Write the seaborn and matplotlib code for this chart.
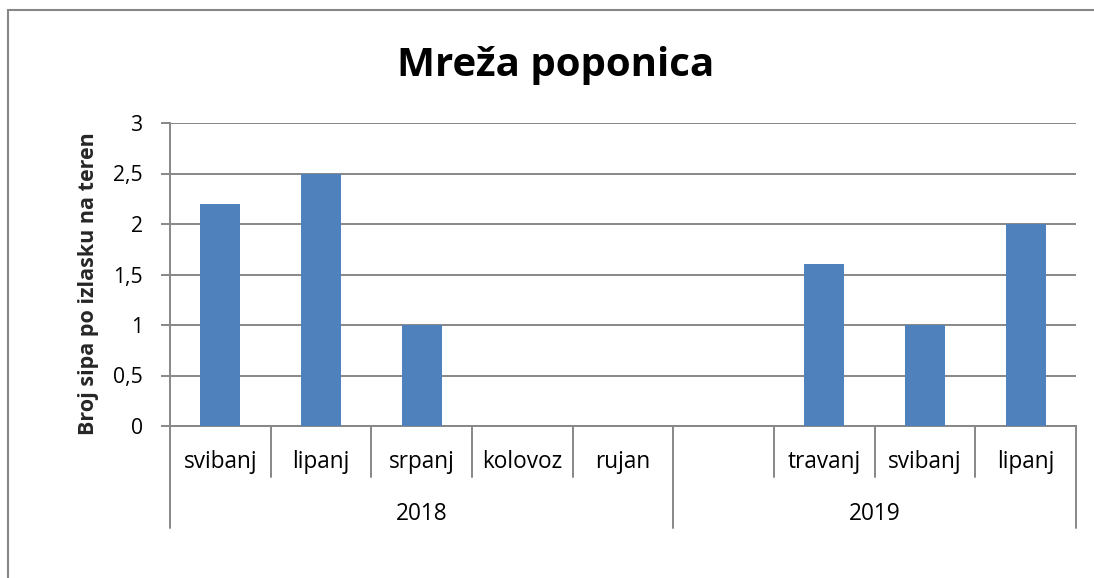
import matplotlib
matplotlib.use("Agg")
import matplotlib.pyplot as plt
import matplotlib.transforms as mtransforms
from matplotlib.patches import Rectangle
import seaborn as sns
import pandas as pd

# ---- data ----
years = ["2018", "2018", "2018", "2018", "2018", "2019", "2019", "2019", "2019"]
months = ["svibanj", "lipanj", "srpanj", "kolovoz", "rujan", "", "travanj", "svibanj", "lipanj"]
values = [2.2, 2.5, 1.0, 0.0, 0.0, 0.0, 1.6, 1.0, 2.0]
year_groups = ["2018", "2019"]
title = "Mreža poponica"
ylabel = "Broj sipa po izlasku na teren"
yticks = [0, 0.5, 1, 1.5, 2, 2.5, 3]

sns.set_theme(style="white")
FONT = ["Open Sans", "DejaVu Sans"]
plt.rcParams["font.family"] = FONT

W, H = 1094, 578
fig = plt.figure(figsize=(W / 100, H / 100), dpi=100)
L, R, T, B = 170, 1076, 123, 426
ax = fig.add_axes([L / W, 1 - B / H, (R - L) / W, (B - T) / H])

df = pd.DataFrame({"key": [f"{y}-{m}-{i}" for i, (y, m) in enumerate(zip(years, months))],
                   "val": values})
GRAY = "#878787"
sns.barplot(data=df, x="key", y="val", color="#4F81BD", saturation=1, width=0.4,
            ax=ax, zorder=3, linewidth=0)
n = len(values)
ax.set_xlim(-0.5, n - 0.5)
ax.set_ylim(0, 3)
ax.set_yticks(yticks)
ax.set_yticklabels([f"{t:g}".replace(".", ",") for t in yticks], fontsize=15.2, color="black")
ax.yaxis.grid(True, color=GRAY, linewidth=1.4, zorder=0)
ax.set_axisbelow(True)
ax.tick_params(axis="y", which="both", left=True, length=6.5, width=1.4, color=GRAY, pad=13)
ax.set_xticks([])
ax.set_xlabel("")
ax.set_ylabel(ylabel, fontsize=15.5, fontweight="bold")
ax.yaxis.label.set_va("center")
ax.yaxis.set_label_coords((89 - L) / (R - L), (B - 284) / (B - T))
for s in ["top", "right"]:
    ax.spines[s].set_visible(False)
for s in ["left", "bottom"]:
    ax.spines[s].set_color(GRAY)
    ax.spines[s].set_linewidth(1.4)

fig.text(555.5 / W, 1 - 76 / H, title, fontsize=29, fontweight="bold",
         ha="center", va="baseline", color="black")

# multi-level category axis
trans = mtransforms.blended_transform_factory(ax.transData, ax.transAxes)
ph = B - T
row1 = -51 / ph
row2 = -102 / ph
for i, m in enumerate(months):
    ax.text(i, -36 / ph, m, transform=trans, ha="center", va="center",
            fontsize=16.3, color="black")
for b in range(n + 1):
    x = b - 0.5
    ax.plot([x, x], [0, row1], transform=trans, color=GRAY, lw=1.4, clip_on=False)
bounds = [0]
for i in range(1, n):
    if years[i] != years[i - 1]:
        bounds.append(i)
bounds.append(n)
for b in bounds:
    ax.plot([b - 0.5, b - 0.5], [row1, row2], transform=trans, color=GRAY, lw=1.4, clip_on=False)
for g, (a, c) in zip(year_groups, zip(bounds[:-1], bounds[1:])):
    ax.text((a + c - 1) / 2, -88 / ph, g, transform=trans, ha="center", va="center",
            fontsize=16.3, color="black")

# outer chart border
fig.patches.append(Rectangle((8 / W, -0.1), (W - 8 + 20) / W, 1.1 - 10 / H,
                             transform=fig.transFigure, fill=False, edgecolor=GRAY,
                             linewidth=1.5))

fig.savefig("out.png", dpi=100, facecolor="white")
